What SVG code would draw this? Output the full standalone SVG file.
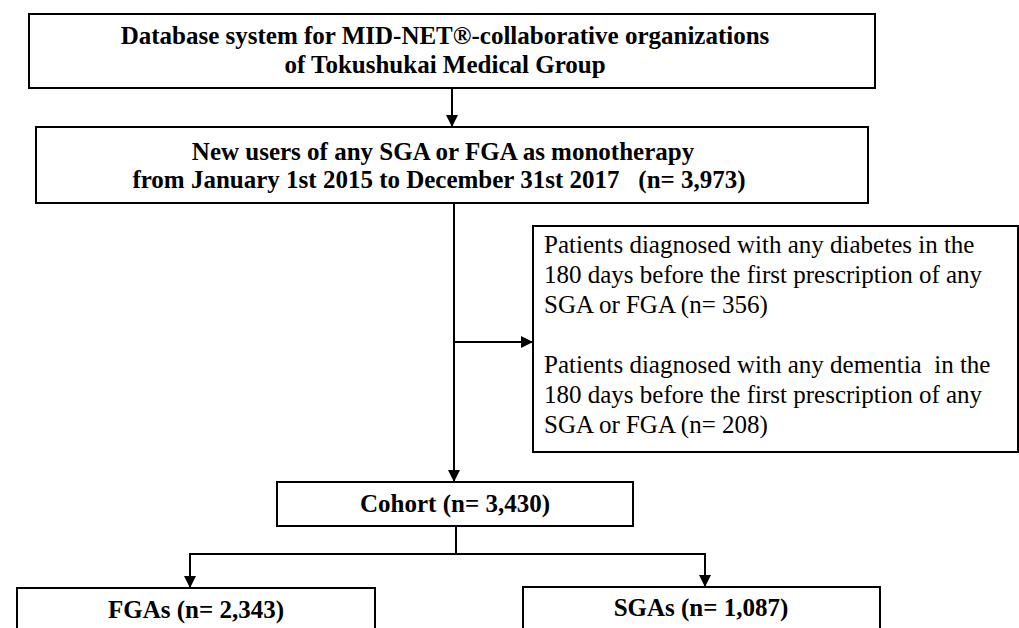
<svg xmlns="http://www.w3.org/2000/svg" width="1019" height="628" viewBox="0 0 1019 628">
  <style>
    .box { fill: #ffffff; stroke: #000000; stroke-width: 2; }
    .b { font-family: "Liberation Serif", "Times New Roman", serif; font-weight: bold; font-size: 25px; fill: #000; text-anchor: middle; }
    .r { font-family: "Liberation Serif", "Times New Roman", serif; font-size: 25px; fill: #000; }
    .conn { fill: none; stroke: #000000; stroke-width: 2; }
  </style>
  <defs>
    <marker id="arrow" markerUnits="userSpaceOnUse" markerWidth="12" markerHeight="12" refX="12" refY="6" orient="auto">
      <path d="M0,0 L12,6 L0,12 z" fill="#000"/>
    </marker>
  </defs>
  <rect width="1019" height="628" fill="#ffffff"/>

  <g id="connectors">
    <line class="conn" x1="452" y1="88" x2="452" y2="127" marker-end="url(#arrow)"/>
    <line class="conn" x1="454" y1="203" x2="454" y2="482" marker-end="url(#arrow)"/>
    <line class="conn" x1="454" y1="342" x2="533" y2="342" marker-end="url(#arrow)"/>
    <line class="conn" x1="456" y1="526" x2="456" y2="554"/>
    <polyline class="conn" points="456,554 190,554 190,588" marker-end="url(#arrow)"/>
    <polyline class="conn" points="456,554 705,554 705,587" marker-end="url(#arrow)"/>
  </g>

  <g id="node-database">
    <rect class="box" x="29" y="14" width="846" height="74"/>
    <text class="b" x="445" y="44">Database system for MID-NET®-collaborative organizations</text>
    <text class="b" x="445" y="73">of Tokushukai Medical Group</text>
  </g>

  <g id="node-newusers">
    <rect class="box" x="36" y="127" width="832" height="76"/>
    <text class="b" x="443" y="160">New users of any SGA or FGA as monotherapy</text>
    <text class="b" x="439" y="188" xml:space="preserve">from January 1st 2015 to December 31st 2017   (n= 3,973)</text>
  </g>

  <g id="node-excluded">
    <rect class="box" x="533" y="226" width="485" height="226"/>
    <text class="r" x="544" y="253">Patients diagnosed with any diabetes in the</text>
    <text class="r" x="544" y="283">180 days before the first prescription of any</text>
    <text class="r" x="544" y="313">SGA or FGA (n= 356)</text>
    <text class="r" x="544" y="373" xml:space="preserve">Patients diagnosed with any dementia  in the</text>
    <text class="r" x="544" y="403">180 days before the first prescription of any</text>
    <text class="r" x="544" y="433">SGA or FGA (n= 208)</text>
  </g>

  <g id="node-cohort">
    <rect class="box" x="277" y="482" width="356" height="44"/>
    <text class="b" x="455" y="512">Cohort (n= 3,430)</text>
  </g>

  <g id="node-fgas">
    <rect class="box" x="17" y="588" width="358" height="60"/>
    <text class="b" x="196" y="618">FGAs (n= 2,343)</text>
  </g>

  <g id="node-sgas">
    <rect class="box" x="523" y="587" width="357" height="60"/>
    <text class="b" x="701" y="616">SGAs (n= 1,087)</text>
  </g>
</svg>
